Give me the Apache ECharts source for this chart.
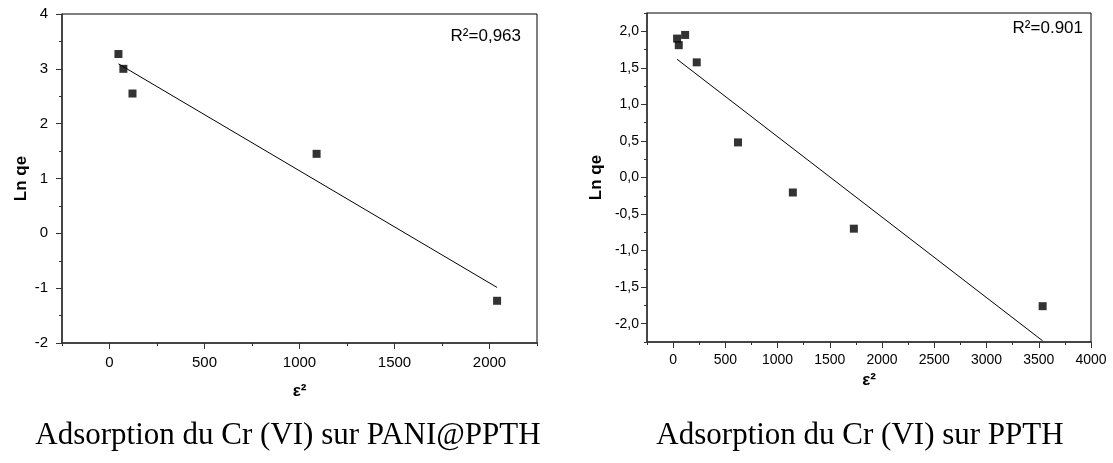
<!DOCTYPE html>
<html><head><meta charset="utf-8">
<script src="https://cdn.jsdelivr.net/npm/echarts@6/dist/echarts.min.js"></script>
<style>html,body{margin:0;padding:0;background:#fff}#c{width:1113px;height:463px}</style>
</head><body><div id="c"></div>
<script>
// ---- data ----
const leftX = [47, 73, 121, 1090, 2040];
const leftY = [3.27, 3.00, 2.55, 1.45, -1.23];
const rightX = [38, 54, 115, 226, 621, 1146, 1730, 3537];
const rightY = [1.90, 1.81, 1.95, 1.575, 0.48, -0.205, -0.70, -1.76];
const leftXTicks = [0, 500, 1000, 1500, 2000];
const leftYTicks = [-2, -1, 0, 1, 2, 3, 4];
const rightXTicks = [0, 500, 1000, 1500, 2000, 2500, 3000, 3500, 4000];
const rightYTicks = [-2, -1.5, -1, -0.5, 0, 0.5, 1, 1.5, 2];
const leftR2 = 'R²=0,963';
const rightR2 = 'R²=0.901';
const captionLeft = 'Adsorption du Cr (VI) sur PANI@PPTH';
const captionRight = 'Adsorption du Cr (VI) sur PPTH';
const yName = 'Ln qe';
const xName = 'ε²';

// least-squares fit drawn between first and last x
function fitLine(xs, ys) {
  const n = xs.length;
  const mx = xs.reduce((a, b) => a + b, 0) / n;
  const my = ys.reduce((a, b) => a + b, 0) / n;
  let sxy = 0, sxx = 0;
  for (let i = 0; i < n; i++) { sxy += (xs[i] - mx) * (ys[i] - my); sxx += (xs[i] - mx) ** 2; }
  const b = sxy / sxx, a = my - b * mx;
  const x0 = Math.min(...xs), x1 = Math.max(...xs);
  return [[x0, a + b * x0], [x1, a + b * x1]];
}
const zip = (xs, ys) => xs.map((x, i) => [x, ys[i]]);

const FONT = 'Liberation Sans';
const axisLineStyle = { show: true, onZero: false, lineStyle: { color: '#333', width: 1.5 } };

function mainAxis(grid, min, max, interval, labels, fmt, margin, fontSize, extra) {
  return Object.assign({
    type: 'value', gridIndex: grid, min, max, interval,
    axisLine: axisLineStyle,
    axisTick: { show: true, length: 3, lineStyle: { color: '#333', width: 1 } },
    axisLabel: { customValues: labels, formatter: fmt, margin, color: '#000', fontFamily: FONT, fontSize },
    splitLine: { show: false }
  }, extra || {});
}
function overlayAxis(grid, min, max, interval, ticks, position) {
  return {
    type: 'value', gridIndex: grid, min, max, interval, position,
    axisLine: { show: false, onZero: false },
    axisTick: { show: true, customValues: ticks, length: 6, lineStyle: { color: '#333', width: 1 } },
    axisLabel: { show: false },
    splitLine: { show: false }
  };
}
const commaFmt = v => (Math.round(v * 10) / 10).toFixed(1).replace('.', ',');
const intFmt = v => String(Math.round(v));

const nameStyleY = { fontFamily: FONT, fontWeight: 'bold', fontSize: 17, color: '#000' };
const nameStyleX = { fontFamily: FONT, fontWeight: 'bold', fontSize: 17, color: '#000' };

const chart = echarts.init(document.getElementById('c'), null, { renderer: 'canvas' });
chart.setOption({
  animation: false,
  backgroundColor: '#fff',
  grid: [
    { left: 62, right: 1113 - 537, top: 14, bottom: 463 - 343, show: true, borderColor: '#000', borderWidth: 1, backgroundColor: 'transparent' },
    { left: 647, right: 1113 - 1091, top: 13, bottom: 463 - 342, show: true, borderColor: '#000', borderWidth: 1, backgroundColor: 'transparent' }
  ],
  xAxis: [
    mainAxis(0, -250, 2250, 250, leftXTicks, intFmt, 12, 15, { position: 'bottom', name: xName, nameLocation: 'middle', nameGap: 40, nameTextStyle: nameStyleX }),
    overlayAxis(0, -250, 2250, 250, leftXTicks, 'bottom'),
    mainAxis(1, -250, 4000, 250, rightXTicks, intFmt, 11, 14, { position: 'bottom', name: xName, nameLocation: 'middle', nameGap: 30, nameTextStyle: nameStyleX }),
    overlayAxis(1, -250, 4000, 250, rightXTicks, 'bottom')
  ],
  yAxis: [
    mainAxis(0, -2, 4, 0.5, leftYTicks, intFmt, 14, 15, { position: 'left', name: yName, nameLocation: 'middle', nameGap: 32, nameTextStyle: nameStyleY }),
    overlayAxis(0, -2, 4, 0.5, leftYTicks, 'left'),
    mainAxis(1, -2.25, 2.25, 0.25, rightYTicks, commaFmt, 8, 14, { position: 'left', name: yName, nameLocation: 'middle', nameGap: 42, nameTextStyle: nameStyleY }),
    overlayAxis(1, -2.25, 2.25, 0.25, rightYTicks, 'left')
  ],
  series: [
    { type: 'line', xAxisIndex: 0, yAxisIndex: 0, data: fitLine(leftX, leftY), symbol: 'none', lineStyle: { color: '#000', width: 1 }, z: 2 },
    { type: 'scatter', xAxisIndex: 0, yAxisIndex: 0, data: zip(leftX, leftY), symbol: 'rect', symbolSize: 8, itemStyle: { color: '#000' }, z: 3 },
    { type: 'line', xAxisIndex: 2, yAxisIndex: 2, data: fitLine(rightX, rightY), symbol: 'none', lineStyle: { color: '#000', width: 1 }, clip: true, z: 2 },
    { type: 'scatter', xAxisIndex: 2, yAxisIndex: 2, data: zip(rightX, rightY), symbol: 'rect', symbolSize: 8, itemStyle: { color: '#000' }, z: 3 }
  ],
  graphic: [
    { type: 'text', right: 1113 - 521, top: 28, style: { text: leftR2, fontFamily: FONT, fontSize: 17, fill: '#000' } },
    { type: 'text', right: 1113 - 1083, top: 20, style: { text: rightR2, fontFamily: FONT, fontSize: 17, fill: '#000' } },
    { type: 'text', x: 288, y: 436, style: { text: captionLeft, fontFamily: 'Liberation Serif', fontSize: 31, fill: '#000', align: 'center', verticalAlign: 'middle' } },
    { type: 'text', x: 860, y: 436, style: { text: captionRight, fontFamily: 'Liberation Serif', fontSize: 31, fill: '#000', align: 'center', verticalAlign: 'middle' } }
  ]
});
</script>
</body></html>
